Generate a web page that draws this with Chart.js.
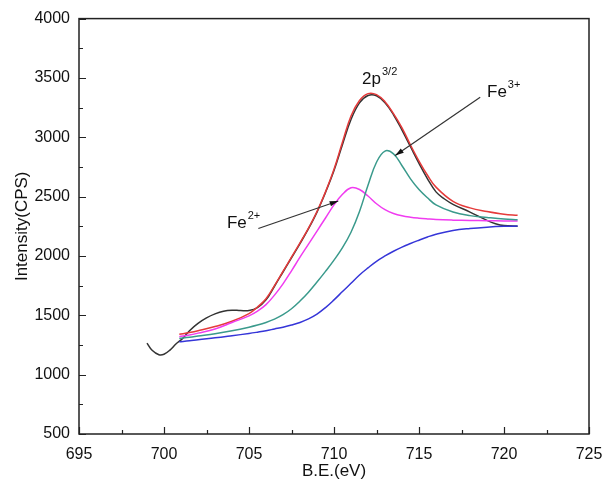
<!DOCTYPE html>
<html lang="en">
<head>
<meta charset="UTF-8">
<title>Fe 2p XPS spectrum</title>
<script src="https://cdn.jsdelivr.net/npm/chart.js@4.4.0/dist/chart.umd.min.js"></script>
<style>
    html, body { margin: 0; padding: 0; background: #fff; }
    .wrap { width: 603px; height: 482px; }
</style>
</head>
<body>
<div class="wrap"><canvas id="xpsChart" width="603" height="482"></canvas></div>
<script>
    // measured spectrum (black)
    const rawBE = [699.0, 699.3, 699.7, 700.0, 700.35, 700.7, 701.1, 701.5, 702.0, 702.5, 703.0, 703.5, 704.0, 704.5, 705.0, 705.5, 706.0, 706.5, 707.0, 707.5, 708.0, 708.5, 709.0, 709.5, 710.0, 710.5, 711.0, 711.5, 712.0, 712.5, 713.0, 713.5, 714.0, 714.5, 715.0, 715.5, 716.0, 716.5, 717.0, 718.0, 719.0, 719.5, 720.0, 720.8];
    const rawCounts = [1266, 1205, 1168, 1172, 1207, 1258, 1305, 1370, 1432, 1478, 1512, 1535, 1543, 1540, 1540, 1565, 1630, 1745, 1865, 1985, 2105, 2230, 2370, 2535, 2720, 2940, 3150, 3290, 3352, 3350, 3290, 3190, 3060, 2920, 2780, 2650, 2540, 2480, 2435, 2370, 2300, 2272, 2256, 2250];

    // fitted curves
    const fitBE = [700.9, 701.5, 702, 703, 704, 705, 705.5, 706, 706.5, 707, 707.5, 708, 708.5, 709, 709.5, 710, 710.5, 711, 711.5, 712, 712.5, 713, 713.5, 714, 714.5, 715, 715.5, 716, 717, 718, 719, 720, 720.8];
    const envelope = [1340, 1355, 1370, 1405, 1450, 1515, 1570, 1640, 1750, 1870, 1990, 2110, 2235, 2375, 2540, 2730, 2960, 3180, 3310, 3368, 3360, 3300, 3200, 3080, 2935, 2800, 2680, 2580, 2460, 2405, 2375, 2352, 2343];
    const fe2 = [1320, 1335, 1350, 1385, 1440, 1495, 1535, 1590, 1670, 1765, 1875, 1990, 2100, 2210, 2320, 2430, 2520, 2574, 2560, 2505, 2440, 2390, 2358, 2338, 2326, 2318, 2312, 2307, 2302, 2299, 2297, 2295, 2295];
    const fe3 = [1305, 1315, 1325, 1345, 1370, 1400, 1418, 1440, 1468, 1505, 1555, 1620, 1695, 1780, 1870, 1965, 2070, 2200, 2375, 2595, 2790, 2884, 2860, 2760, 2650, 2560, 2490, 2430, 2370, 2340, 2325, 2312, 2306];
    const background = [1277, 1285, 1295, 1310, 1328, 1347, 1358, 1370, 1385, 1400, 1418, 1440, 1470, 1510, 1565, 1630, 1700, 1770, 1840, 1900, 1955, 2000, 2040, 2075, 2105, 2133, 2160, 2183, 2215, 2232, 2243, 2250, 2252];

    // text labels and arrows, in data units
    const labels = [
        { text: '2p', sup: '3/2', x: 711.65, y: 3453 },
        { text: 'Fe', sup: '3+', x: 719.0, y: 3340 },
        { text: 'Fe', sup: '2+', x: 703.7, y: 2233 }
    ];
    const arrows = [
        { x1: 718.6, y1: 3338, x2: 713.6, y2: 2847 },
        { x1: 705.55, y1: 2231, x2: 710.25, y2: 2463 }
    ];

    const toPoints = (xs, ys) => xs.map((v, i) => ({ x: v, y: ys[i] }));

    function series(label, xs, ys, color) {
        return {
            label: label,
            data: toPoints(xs, ys),
            showLine: true,
            borderColor: color,
            borderWidth: 1.5,
            pointRadius: 0,
            tension: 0.4,
            fill: false
        };
    }

    const FONT = "'Liberation Sans', Arial, sans-serif";

    // box, inward ticks, annotations
    const frame = {
        id: 'frame',
        afterDraw(chart) {
            const { ctx, chartArea: a, scales: { x, y } } = chart;
            ctx.save();
            ctx.strokeStyle = '#222';
            ctx.lineWidth = 1.5;
            ctx.strokeRect(a.left, a.top, a.right - a.left, a.bottom - a.top);

            ctx.lineWidth = 1.2;
            ctx.beginPath();
            for (let v = x.min; v <= x.max; v += 2.5) {
                const px = Math.round(x.getPixelForValue(v)) + 0.5;
                const len = v % 5 === 0 ? 7 : 4;
                ctx.moveTo(px, a.bottom);
                ctx.lineTo(px, a.bottom - len);
            }
            for (let v = y.min; v <= y.max; v += 250) {
                const py = Math.round(y.getPixelForValue(v)) + 0.5;
                const len = v % 500 === 0 ? 7 : 4;
                ctx.moveTo(a.left, py);
                ctx.lineTo(a.left + len, py);
            }
            ctx.stroke();

            // labels with superscripts
            ctx.fillStyle = '#111';
            ctx.textBaseline = 'alphabetic';
            labels.forEach(l => {
                const px = x.getPixelForValue(l.x);
                const py = y.getPixelForValue(l.y);
                ctx.font = '17px ' + FONT;
                ctx.fillText(l.text, px, py);
                const w = ctx.measureText(l.text).width;
                ctx.font = '11px ' + FONT;
                ctx.fillText(l.sup, px + w + 1, py - 9);
            });

            // arrows
            ctx.strokeStyle = '#333';
            ctx.fillStyle = '#111';
            ctx.lineWidth = 1.2;
            arrows.forEach(ar => {
                const x1 = x.getPixelForValue(ar.x1), y1 = y.getPixelForValue(ar.y1);
                const x2 = x.getPixelForValue(ar.x2), y2 = y.getPixelForValue(ar.y2);
                ctx.beginPath();
                ctx.moveTo(x1, y1);
                ctx.lineTo(x2, y2);
                ctx.stroke();
                const ang = Math.atan2(y2 - y1, x2 - x1);
                ctx.beginPath();
                ctx.moveTo(x2, y2);
                ctx.lineTo(x2 - 9 * Math.cos(ang - 0.3), y2 - 9 * Math.sin(ang - 0.3));
                ctx.lineTo(x2 - 9 * Math.cos(ang + 0.3), y2 - 9 * Math.sin(ang + 0.3));
                ctx.closePath();
                ctx.fill();
            });
            ctx.restore();
        }
    };

    const ctx = document.getElementById('xpsChart').getContext('2d');
    const xpsChart = new Chart(ctx, {
        type: 'scatter',
        data: {
            datasets: [
                series('Background', fitBE, background, '#3535d8'),
                series('Fe3+', fitBE, fe3, '#3a9a8c'),
                series('Fe2+', fitBE, fe2, '#f03cf0'),
                series('Fit', fitBE, envelope, '#e53a3a'),
                series('Raw', rawBE, rawCounts, '#333333')
            ]
        },
        options: {
            responsive: false,
            animation: false,
            devicePixelRatio: 1,
            layout: { padding: { top: 18, right: 14, left: 0, bottom: 0 } },
            plugins: {
                legend: { display: false },
                tooltip: { enabled: false }
            },
            scales: {
                x: {
                    type: 'linear',
                    min: 695,
                    max: 725,
                    grid: { display: false, drawTicks: false },
                    border: { display: false },
                    ticks: {
                        stepSize: 5,
                        padding: 11,
                        color: '#111',
                        font: { family: FONT, size: 16 }
                    },
                    title: {
                        display: true,
                        text: 'B.E.(eV)',
                        color: '#111',
                        padding: { top: 3, bottom: 0 },
                        font: { family: FONT, size: 17 }
                    },
                    afterFit(scale) {
                        scale.height = 48;
                        scale.paddingLeft = 0;
                        scale.paddingRight = 0;
                    }
                },
                y: {
                    min: 500,
                    max: 4000,
                    grid: { display: false, drawTicks: false },
                    border: { display: false },
                    ticks: {
                        stepSize: 500,
                        padding: 9,
                        color: '#111',
                        font: { family: FONT, size: 16 },
                        callback: v => String(v)
                    },
                    title: {
                        display: true,
                        text: 'Intensity(CPS)',
                        color: '#111',
                        padding: { top: 12, bottom: 0 },
                        font: { family: FONT, size: 17 }
                    },
                    afterFit(scale) { scale.width = 79; }
                }
            }
        },
        plugins: [frame]
    });
</script>
</body>
</html>
